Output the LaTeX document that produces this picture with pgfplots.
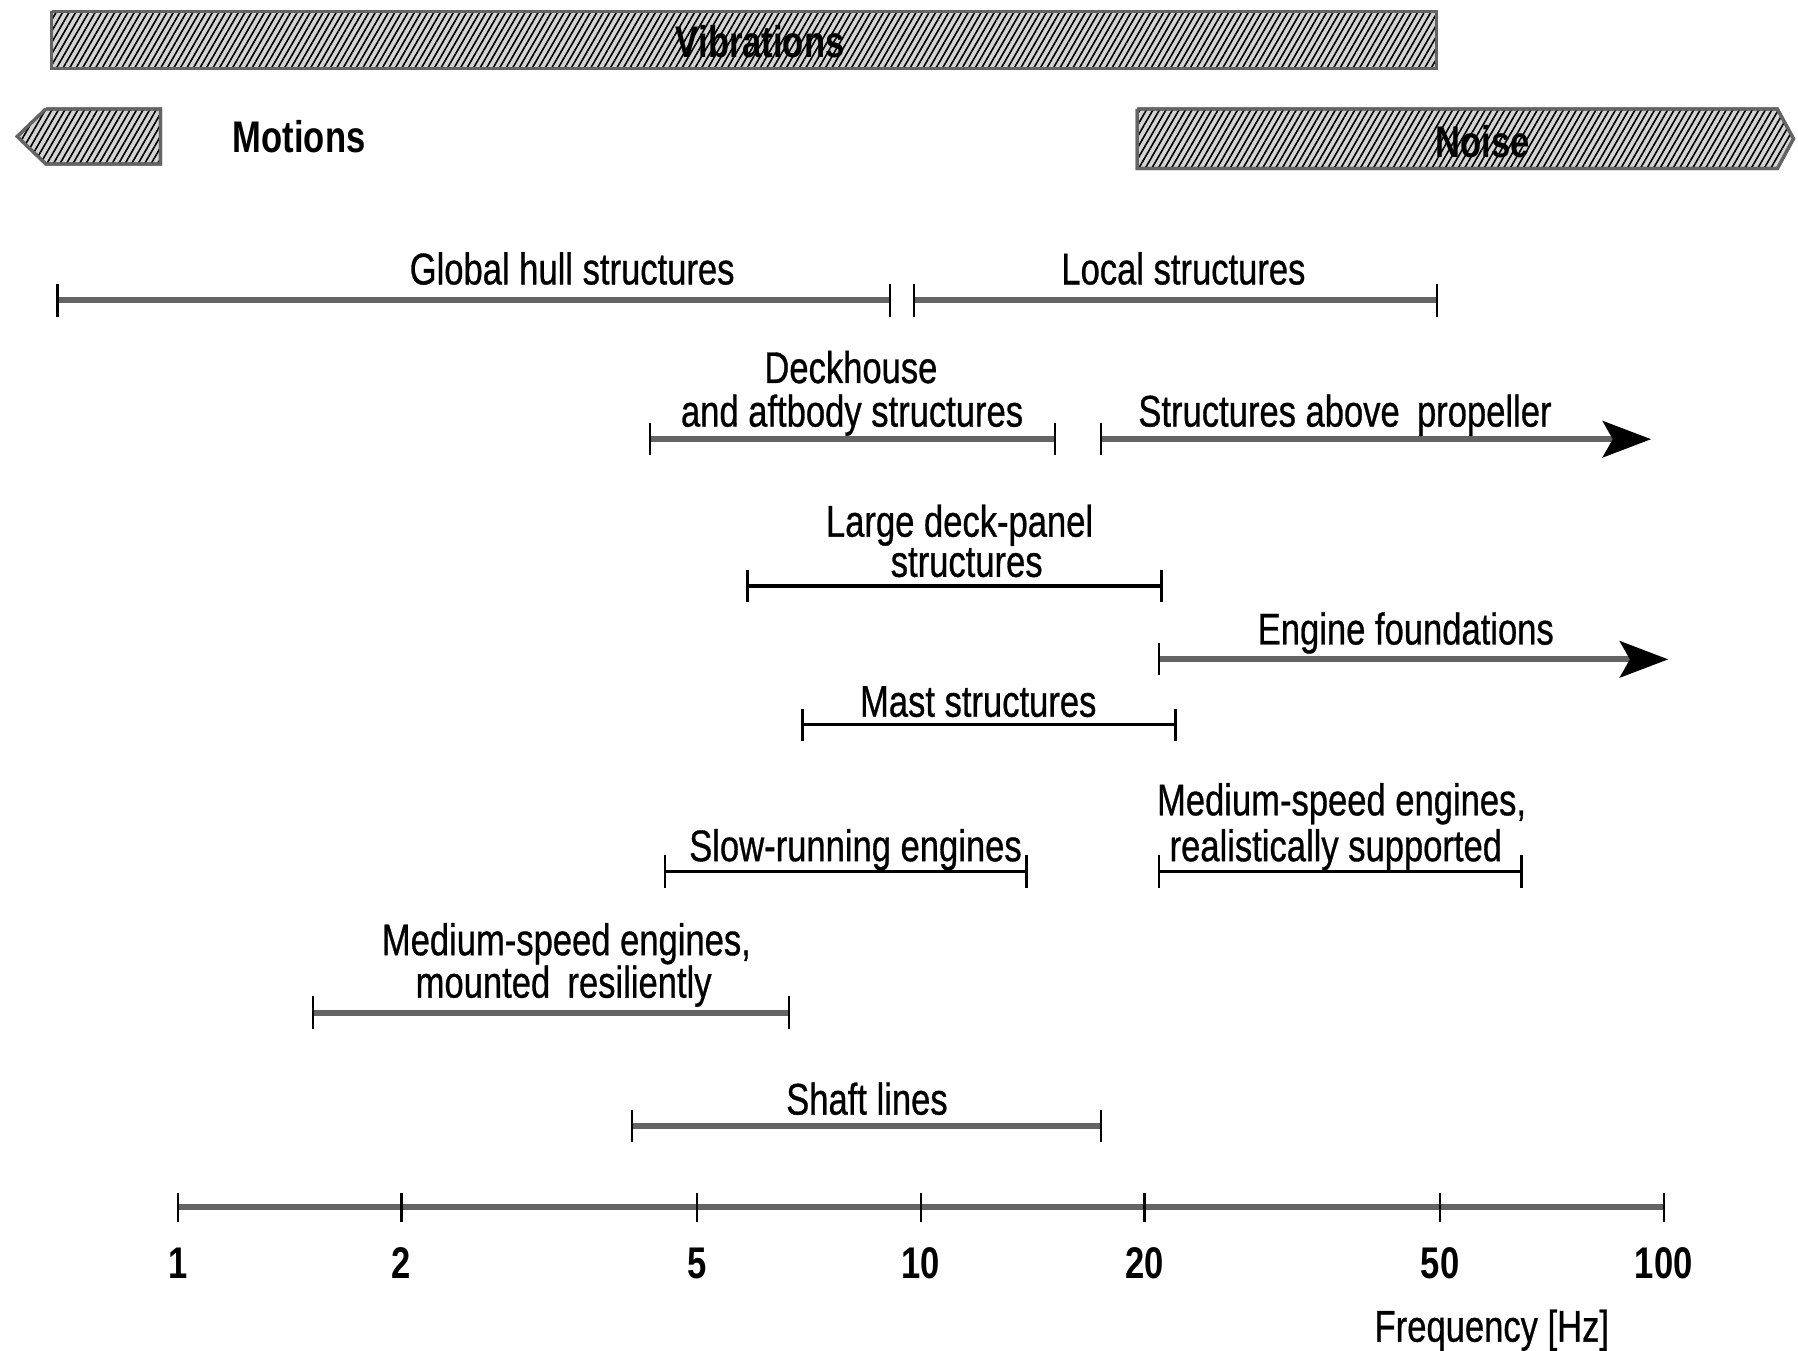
\documentclass[border=0pt]{standalone}
\usepackage{fontspec}
\setmainfont{Liberation Sans}
\newfontfamily\heavyfont[FakeBold=0.8]{Liberation Sans}
\usepackage{pgfplots}
\pgfplotsset{compat=1.18}
\usetikzlibrary{patterns.meta,arrows.meta}
\definecolor{lgray}{RGB}{100,100,100}
\definecolor{boxfill}{RGB}{212,212,212}
\tikzset{
  hatch/.style={draw=lgray, line width=0.8pt, fill=boxfill,
    postaction={pattern={Lines[angle=60,distance=1.4pt,line width=0.4pt]}, pattern color=black}},
  grng/.style={draw=lgray, line width=1.5pt, mark=|, mark size=4pt,
    mark options={draw=black, line width=0.6pt, solid}},
  brng/.style={draw=black, line width=0.8pt, mark=|, mark size=4pt,
    mark options={draw=black, line width=0.6pt, solid}},
  lab/.style={font=\heavyfont\fontsize{11}{13}\selectfont, xscale=0.78, inner sep=0pt, anchor=base},
  blab/.style={font=\fontsize{11}{13}\selectfont\bfseries, xscale=0.78, inner sep=0pt, anchor=base},
  arr/.style={-{Stealth[length=12pt,width=9pt,inset=2.5pt,black]}},
}
\begin{document}
\begin{tikzpicture}
\begin{axis}[
  name=main,
  width=15.68cm, height=11.78cm, scale only axis,
  xmode=log, xmin=0.5765, xmax=151.6, ymin=0, ymax=1178, y dir=reverse,
  hide axis, clip=false,
]
% hatched bands
\addplot[hatch] coordinates {(0.6765,10) (49.49,10) (49.49,60) (0.6765,60) (0.6765,10)};
\addplot[hatch] coordinates {(0.6645,95) (0.9481,95) (0.9481,143) (0.6645,143) (0.6081,119) (0.6645,95)};
\addplot[hatch] coordinates {(19.57,95) (142.2,95) (149.5,121) (142.2,147) (19.57,147) (19.57,95)};
\node[blab] at (axis cs:6.08,50) {Vibrations};
\node[blab] at (axis cs:1.457,133) {Motions};
\node[blab] at (axis cs:57.06,137) {Noise};

% ranges
\addplot[grng] coordinates {(0.6887,262) (9.085,262)};
\node[lab] at (axis cs:3.395,248) {Global hull structures};
\addplot[grng] coordinates {(9.789,262) (49.49,262)};
\node[lab] at (axis cs:22.57,248) {Local structures};

\addplot[grng] coordinates {(4.323,383) (15.16,383)};
\node[lab] at (axis cs:8.054,334) {Deckhouse};
\node[lab] at (axis cs:8.083,372) {and aftbody structures};
\addplot[grng, mark indices={1}, arr] coordinates {(17.47,383) (96.16,383)};
\node[lab] at (axis cs:37.24,372) {Structures above\enspace propeller};

\addplot[brng] coordinates {(5.847,511) (21.09,511)};
\node[lab] at (axis cs:11.28,468) {Large deck-panel};
\node[lab] at (axis cs:11.53,503) {structures};

\addplot[grng, mark indices={1}, arr] coordinates {(20.94,575) (101.4,575)};
\node[lab] at (axis cs:44.96,562) {Engine foundations};

\addplot[brng] coordinates {(6.936,632) (22.01,632)};
\node[lab] at (axis cs:11.95,625) {Mast structures};

\addplot[brng] coordinates {(4.528,760) (13.87,760)};
\node[lab] at (axis cs:8.17,751) {Slow-running engines};
\addplot[brng] coordinates {(20.94,760) (64.37,760)};
\node[lab] at (axis cs:36.85,711) {Medium-speed engines,};
\node[lab] at (axis cs:36.20,751) {realistically supported};

\addplot[grng] coordinates {(1.521,883) (6.646,883)};
\node[lab] at (axis cs:3.335,833) {Medium-speed engines,};
\node[lab] at (axis cs:3.307,870) {mounted\enspace resiliently};

\addplot[grng] coordinates {(4.084,982) (17.47,982)};
\node[lab] at (axis cs:8.465,972) {Shaft lines};

% frequency scale
\addplot[grng, mark size=3.7pt] coordinates {(1,1053) (2,1053) (5,1053) (10,1053) (20,1053) (50,1053) (100,1053)};
\node[blab] at (axis cs:1,1115) {1};
\node[blab] at (axis cs:2,1115) {2};
\node[blab] at (axis cs:5,1115) {5};
\node[blab] at (axis cs:10,1115) {10};
\node[blab] at (axis cs:20,1115) {20};
\node[blab] at (axis cs:50,1115) {50};
\node[blab] at (axis cs:100,1115) {100};
\node[lab] at (axis cs:58.7,1170) {Frequency [Hz]};
\end{axis}
\pgfresetboundingbox
\path[use as bounding box] (main.south west) rectangle (main.north east);
\end{tikzpicture}
\end{document}
